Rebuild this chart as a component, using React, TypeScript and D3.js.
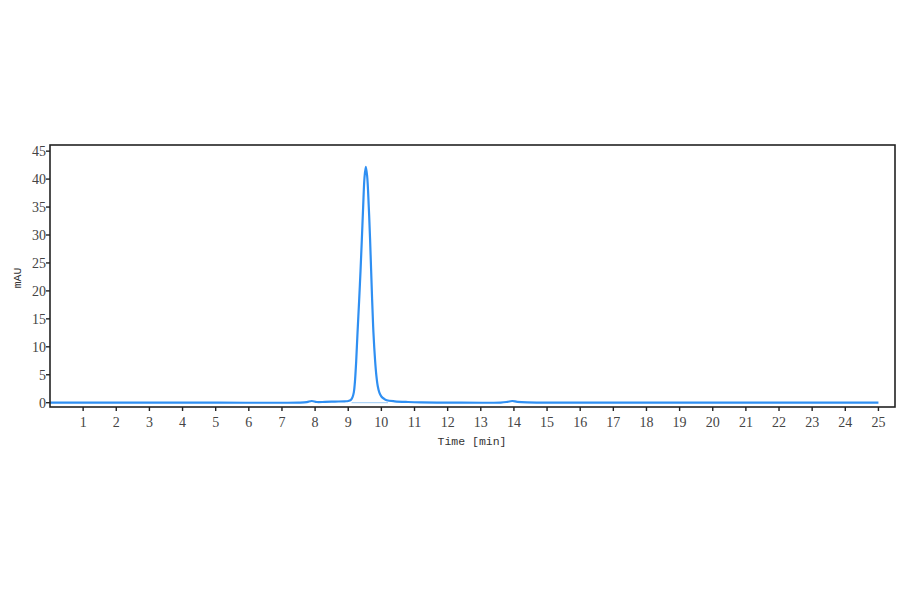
import React from "react";
import * as d3 from "d3";

const timeMin: number[] = [
  0, 2, 5, 7.5, 7.75, 7.9, 8.05, 8.3, 8.6, 8.9, 9.0, 9.08, 9.13, 9.17, 9.2, 9.24, 9.28, 9.33, 9.37,
  9.41, 9.45, 9.49, 9.53, 9.57, 9.62, 9.66, 9.72, 9.76, 9.81, 9.85, 9.89, 9.94, 10.0, 10.08, 10.16,
  10.4, 10.8, 11.2, 12, 13.6, 13.8, 13.95, 14.1, 14.4, 16, 20, 25,
];
const absorbance: number[] = [
  0, 0, 0, 0.02, 0.1, 0.3, 0.12, 0.15, 0.2, 0.25, 0.3, 0.5, 1.0, 1.9, 3.6, 7.4, 12.5, 18.4, 23.5,
  29.1, 35, 40.2, 42.2, 40.6, 35, 29.1, 18.6, 12.6, 7.6, 4.8, 3.0, 1.8, 1.1, 0.7, 0.45,
  0.25, 0.12, 0.05, 0.02, 0.03, 0.15, 0.3, 0.15, 0.05, 0.02, 0, 0,
];
const xTicks: number[] = d3.range(1, 26);
const yTicks: number[] = [0, 5, 10, 15, 20, 25, 30, 35, 40, 45];
const xTitle = "Time [min]";
const yTitle = "mAU";

export default function App() {
  const W = 900;
  const H = 594;
  const left = 50, right = 895, top = 145, bottom = 407;
  const x = d3.scaleLinear().domain([0, 25.5]).range([left, right]);
  const y = d3.scaleLinear().domain([-0.77, 46.1]).range([bottom, top]);
  const pts: [number, number][] = timeMin.map((t, i) => [t, absorbance[i]]);
  const line = d3
    .line<[number, number]>()
    .x((d) => x(d[0]))
    .y((d) => y(d[1]))
    .curve(d3.curveCatmullRom.alpha(0.5));
  const serif = "'Liberation Serif', 'DejaVu Serif', serif";
  const mono = "'Liberation Mono', 'DejaVu Sans Mono', monospace";
  return (
    <svg
      width={W}
      height={H}
      style={{ position: "absolute", left: 0, top: 0, background: "#fff" }}
    >
      <rect x={0} y={0} width={W} height={H} fill="#fff" />
      <line x1={x(9.1)} x2={x(10.2)} y1={y(0)} y2={y(0)} stroke="#9ccaf6" strokeWidth={1} />
      <path d={line(pts) || ""} fill="none" stroke="#2f8ff2" strokeWidth={2.2} strokeLinejoin="round" />
      <rect
        x={left}
        y={top}
        width={right - left}
        height={bottom - top}
        fill="none"
        stroke="#222"
        strokeWidth={1.6}
      />
      {yTicks.map((v) => (
        <g key={"y" + v}>
          <line x1={left - 4} x2={left} y1={y(v)} y2={y(v)} stroke="#222" strokeWidth={1.4} />
          <text
            x={left - 4}
            y={y(v)}
            dy="0.35em"
            textAnchor="end"
            fontFamily={serif}
            fontSize={14}
            fill="#444"
          >
            {v}
          </text>
        </g>
      ))}
      {xTicks.map((v) => (
        <g key={"x" + v}>
          <line x1={x(v)} x2={x(v)} y1={bottom} y2={bottom + 4} stroke="#222" strokeWidth={1.4} />
          <text
            x={x(v)}
            y={bottom + 20}
            textAnchor="middle"
            fontFamily={serif}
            fontSize={14}
            fill="#444"
          >
            {v}
          </text>
        </g>
      ))}
      <text
        x={472}
        y={445}
        textAnchor="middle"
        fontFamily={mono}
        fontSize={11.5}
        fill="#333"
      >
        {xTitle}
      </text>
      <text
        transform={`translate(21, 278) rotate(-90)`}
        textAnchor="middle"
        fontFamily={mono}
        fontSize={11.5}
        fill="#333"
      >
        {yTitle}
      </text>
    </svg>
  );
}
